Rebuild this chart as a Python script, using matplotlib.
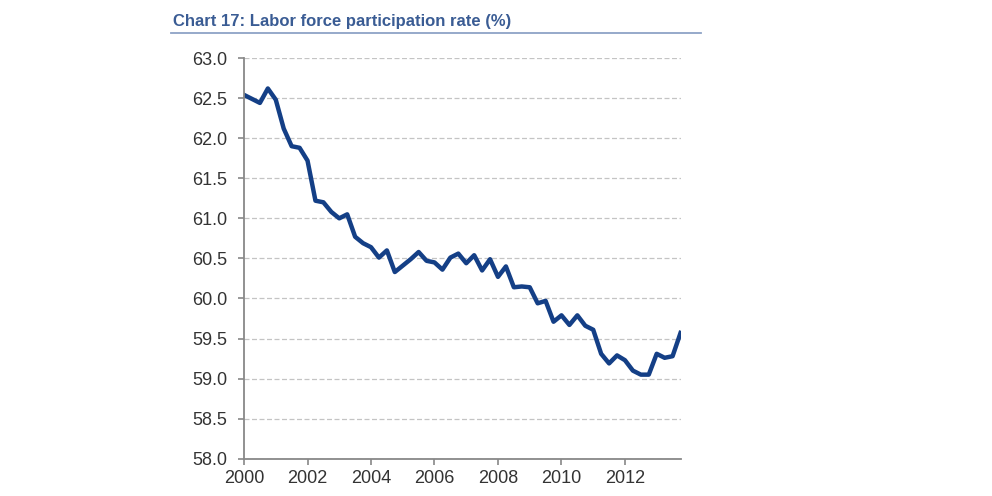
import matplotlib.pyplot as plt
from matplotlib.lines import Line2D

# quarterly, 2000Q1 .. 2013Q4
start_year = 2000
rate = [62.54, 62.49, 62.44, 62.62, 62.48, 62.12, 61.90, 61.88,
        61.72, 61.22, 61.20, 61.08, 61.00, 61.05, 60.77, 60.69,
        60.64, 60.51, 60.60, 60.33, 60.41, 60.49, 60.58, 60.47,
        60.45, 60.36, 60.51, 60.56, 60.44, 60.54, 60.35, 60.49,
        60.27, 60.40, 60.14, 60.15, 60.14, 59.94, 59.97, 59.71,
        59.79, 59.67, 59.79, 59.66, 59.61, 59.31, 59.19, 59.29,
        59.23, 59.10, 59.05, 59.05, 59.31, 59.26, 59.28, 59.57]
x_ticks = [2000, 2002, 2004, 2006, 2008, 2010, 2012]
y_ticks = [58.0, 58.5, 59.0, 59.5, 60.0, 60.5, 61.0, 61.5, 62.0, 62.5, 63.0]
title = 'Chart 17: Labor force participation rate (%)'

years = [start_year + i / 4 for i in range(len(rate))]

plt.rcParams['font.family'] = ['Liberation Sans', 'DejaVu Sans']

fig = plt.figure(figsize=(9.92, 4.96), dpi=100)
ax = fig.add_axes([0.246, 0.075, 0.44, 0.808])

ax.plot(years, rate, color='#143f86', linewidth=3.2, solid_joinstyle='round')

ax.set_xlim(2000, 2013.75)
ax.set_ylim(58.0, 63.0)
ax.set_xticks(x_ticks)
ax.set_yticks(y_ticks)
ax.set_yticklabels([f'{v:.1f}' for v in y_ticks])
ax.tick_params(axis='both', labelsize=13, colors='#888888', labelcolor='#333333',
               length=4, width=1.2, direction='out')
ax.tick_params(axis='y', pad=8)
ax.tick_params(axis='x', pad=4)

ax.yaxis.grid(True, color='#c4c4c4', linestyle=(0, (4, 2)), linewidth=0.9)
ax.set_axisbelow(True)
for side in ['top', 'right']:
    ax.spines[side].set_visible(False)
for side in ['left', 'bottom']:
    ax.spines[side].set_color('#888888')
    ax.spines[side].set_linewidth(1.3)

fig.text(0.174, 0.957, title, fontsize=12, color='#3a5c94', fontweight='bold',
         va='center', ha='left')
fig.add_artist(Line2D([0.172, 0.707], [0.933, 0.933], transform=fig.transFigure,
                      color='#8ea2c6', linewidth=1.3))

fig.savefig('out.png', dpi=100)
